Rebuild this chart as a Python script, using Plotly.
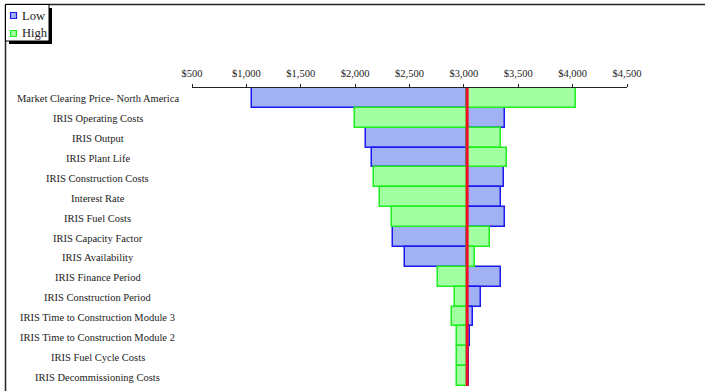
import plotly.graph_objects as go

categories = [
    "Market Clearing Price- North America",
    "IRIS Operating Costs",
    "IRIS Output",
    "IRIS Plant Life",
    "IRIS Construction Costs",
    "Interest Rate",
    "IRIS Fuel Costs",
    "IRIS Capacity Factor",
    "IRIS Availability",
    "IRIS Finance Period",
    "IRIS Construction Period",
    "IRIS Time to Construction Module 3",
    "IRIS Time to Construction Module 2",
    "IRIS Fuel Cycle Costs",
    "IRIS Decommissioning Costs",
]
low_values = [1050, 3380, 2100, 2155, 3370, 3340, 3380, 2345, 2460, 3340, 3155, 3080, 3055, 3045, 3045]
high_values = [4030, 1995, 3340, 3400, 2175, 2230, 2340, 3240, 3100, 2760, 2915, 2895, 2940, 2940, 2940]
base_value = 3030
x_tick_values = [500, 1000, 1500, 2000, 2500, 3000, 3500, 4000, 4500]
x_tick_labels = ["$500", "$1,000", "$1,500", "$2,000", "$2,500", "$3,000", "$3,500", "$4,000", "$4,500"]
series_names = ["Low", "High"]

FONT = "Liberation Serif, Times New Roman, serif"
W, H = 705, 391
L, R, T, B = 192, 78, 88, 5
PW, PH = W - L - R, H - T - B

LOW_FILL, LOW_LINE = "#A2B1F2", "#1A1AF0"
HIGH_FILL, HIGH_LINE = "#A2FFA2", "#1EEE1E"


def px(xp):
    return (xp - L) / PW


def py(yp):
    return (H - B - yp) / PH


fig = go.Figure()
fig.add_trace(go.Bar(
    name=series_names[0], y=categories, x=[v - base_value for v in low_values],
    base=[base_value] * len(categories), orientation="h", width=1,
    marker=dict(color=LOW_FILL, line=dict(color=LOW_LINE, width=1.5)),
    showlegend=False,
))
fig.add_trace(go.Bar(
    name=series_names[1], y=categories, x=[v - base_value for v in high_values],
    base=[base_value] * len(categories), orientation="h", width=1,
    marker=dict(color=HIGH_FILL, line=dict(color=HIGH_LINE, width=1.5)),
    showlegend=False,
))

shapes = []
# base line
shapes.append(dict(type="line", xref="x", yref="paper", x0=base_value, x1=base_value,
                   y0=0, y1=1, line=dict(color="#F01028", width=3), layer="above"))
# outer frame (left and top edges)
shapes.append(dict(type="line", xref="paper", yref="paper", x0=px(5.5), x1=px(5.5),
                   y0=py(4.5), y1=py(395), line=dict(color="#222", width=1.5), layer="below"))
shapes.append(dict(type="line", xref="paper", yref="paper", x0=px(5.5), x1=px(710),
                   y0=py(4.5), y1=py(4.5), line=dict(color="#222", width=1.5), layer="below"))
# legend box with shadow
shapes.append(dict(type="rect", xref="paper", yref="paper", x0=px(9), x1=px(52),
                   y0=py(8), y1=py(44), fillcolor="black", line=dict(width=0), layer="below"))
shapes.append(dict(type="rect", xref="paper", yref="paper", x0=px(5.5), x1=px(49),
                   y0=py(4.5), y1=py(41), fillcolor="white", line=dict(color="black", width=1),
                   layer="below"))
# legend swatches
shapes.append(dict(type="rect", xref="paper", yref="paper", x0=px(10.5), x1=px(16.5),
                   y0=py(12.5), y1=py(18.5), fillcolor=LOW_FILL, line=dict(color=LOW_LINE, width=1.2),
                   layer="below"))
shapes.append(dict(type="rect", xref="paper", yref="paper", x0=px(10.5), x1=px(16.5),
                   y0=py(30.5), y1=py(36.5), fillcolor=HIGH_FILL, line=dict(color=HIGH_LINE, width=1.2),
                   layer="below"))

annotations = []
for cat in categories:
    annotations.append(dict(x=px(97.5), xref="paper", y=cat, yref="y", text=cat,
                            showarrow=False, xanchor="center", yanchor="middle", yshift=-1,
                            font=dict(family=FONT, size=10.5, color="#222")))
annotations.append(dict(x=px(20), xref="paper", y=py(15.5), yref="paper", text=series_names[0],
                        showarrow=False, xanchor="left", yanchor="middle",
                        font=dict(family=FONT, size=12.5, color="#222")))
annotations.append(dict(x=px(20), xref="paper", y=py(33.5), yref="paper", text=series_names[1],
                        showarrow=False, xanchor="left", yanchor="middle",
                        font=dict(family=FONT, size=12.5, color="#222")))

fig.update_layout(
    width=W, height=H,
    margin=dict(l=L, r=R, t=T, b=B, pad=0),
    paper_bgcolor="white", plot_bgcolor="white",
    barmode="overlay", bargap=0,
    shapes=shapes, annotations=annotations,
    font=dict(family=FONT, size=10, color="#222"),
    xaxis=dict(side="top", range=[500, 4500], tickmode="array", tickvals=x_tick_values,
               ticktext=x_tick_labels, showgrid=False, zeroline=False,
               showline=True, linecolor="#222", linewidth=1, ticks="outside",
               ticklen=3, tickcolor="#222", ticklabelstandoff=3,
               tickfont=dict(family=FONT, size=10.5, color="#222")),
    yaxis=dict(autorange="reversed", showticklabels=False, showgrid=False,
               zeroline=False, showline=False, ticks=""),
)

fig.write_html("out.html")
